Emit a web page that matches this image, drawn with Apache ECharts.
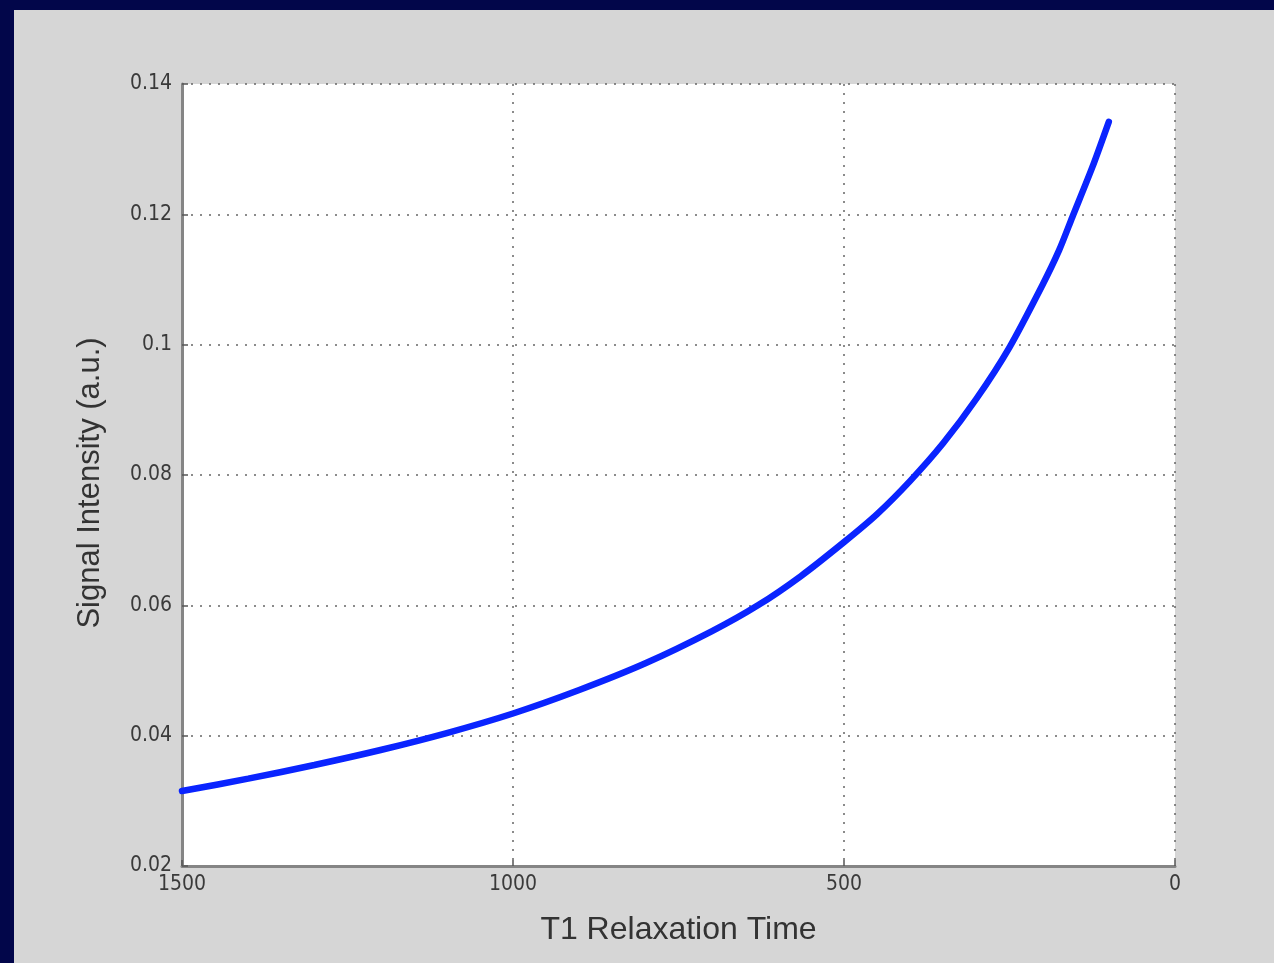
<!DOCTYPE html>
<html>
<head>
<meta charset="utf-8">
<script src="https://cdn.jsdelivr.net/npm/echarts@6/dist/echarts.min.js"></script>
<style>
  html, body { margin: 0; padding: 0; background: #02064a; width: 1274px; height: 963px; overflow: hidden; }
  #chart { position: absolute; left: 14px; top: 10px; width: 1260px; height: 953px; background: #d6d6d6; }
</style>
</head>
<body>
<div id="chart"></div>
<script>
// T1 relaxation time values
var t1Values = [1500, 1400, 1300, 1200, 1100, 1000, 900, 800, 700, 630, 565, 500, 450, 400, 350, 300, 250, 200, 175, 155, 125, 100];
// Signal intensity (a.u.)
var signalValues = [0.0315, 0.0334, 0.0355, 0.0378, 0.0404, 0.0434, 0.0470, 0.0511, 0.0560, 0.0600, 0.0645, 0.0697, 0.0740, 0.0791, 0.0849, 0.0917, 0.0996, 0.1092, 0.1145, 0.1196, 0.1272, 0.1342];
var xTicks = [0, 500, 1000, 1500];
var yTicks = [0.02, 0.04, 0.06, 0.08, 0.1, 0.12, 0.14];

var points = t1Values.map(function (t, i) { return [t, signalValues[i]]; });

var chart = echarts.init(document.getElementById('chart'));
var tickFont = { fontFamily: 'DejaVu Sans Condensed', fontSize: 21, color: '#3a3a3a' };
var dotted = { color: '#666', width: 1.5, type: [2, 7] };

chart.setOption({
  animation: false,
  grid: { left: 168, top: 74, right: 99, bottom: 97, show: true, backgroundColor: '#ffffff', borderWidth: 0 },
  xAxis: {
    type: 'value',
    inverse: true,
    min: 0, max: 1500, interval: 500,
    name: 'T1 Relaxation Time',
    nameLocation: 'middle',
    nameGap: 48,
    nameTextStyle: { fontFamily: 'Liberation Sans', fontSize: 32, color: '#333' },
    axisLine: { show: true, onZero: false, lineStyle: { color: '#858585', width: 3 } },
    axisTick: { show: true, inside: true, length: 6, lineStyle: { color: '#555', width: 1.5 } },
    axisLabel: Object.assign({ margin: 8, formatter: function (v) { return xTicks.indexOf(v) >= 0 ? String(v) : ''; } }, tickFont),
    splitLine: { show: true, lineStyle: dotted }
  },
  yAxis: {
    type: 'value',
    min: 0.02, max: 0.14, interval: 0.02,
    name: 'Signal Intensity (a.u.)',
    nameLocation: 'middle',
    nameGap: 76,
    nameTextStyle: { fontFamily: 'Liberation Sans', fontSize: 31, color: '#333', padding: [0, 16, 0, 0] },
    axisLine: { show: true, onZero: false, lineStyle: { color: '#858585', width: 3 } },
    axisTick: { show: true, inside: true, length: 6, lineStyle: { color: '#555', width: 1.5 } },
    axisLabel: Object.assign({ margin: 10, formatter: function (v) {
      var r = Math.round(v * 100) / 100;
      return yTicks.some(function (t) { return Math.abs(t - r) < 1e-9; }) ? String(r) : '';
    } }, tickFont),
    splitLine: { show: true, lineStyle: dotted }
  },
  series: [{
    type: 'line',
    data: points,
    smooth: 0.25,
    showSymbol: false,
    lineStyle: { color: '#0a24ff', width: 6.5, cap: 'round' }
  }]
});
</script>
</body>
</html>
